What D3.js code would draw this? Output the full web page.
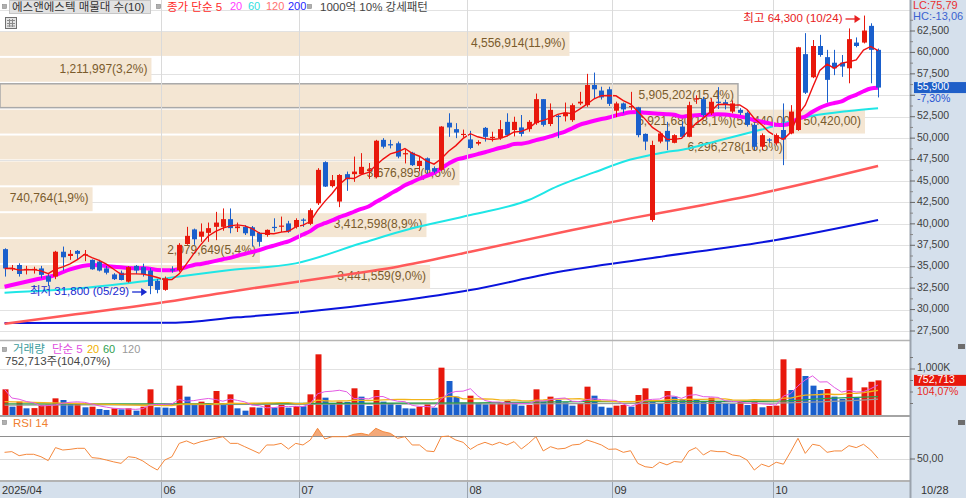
<!DOCTYPE html>
<html>
<head>
<meta charset="utf-8">
<script src="https://cdn.jsdelivr.net/npm/d3@7"></script>
<style>
body { margin: 0; background: #fff; }
svg { display: block; font-family: "Liberation Sans", "Noto Sans CJK KR", sans-serif; }
</style>
</head>
<body>
<svg id="chart" width="966" height="498"></svg>
<script>
// trading days shown, per month
var tradingDays = [
    ['2025/04', [28, 29, 30]],
    ['2025/05', [2, 7, 8, 9, 12, 13, 14, 15, 16, 19, 20, 21, 22, 23, 26, 27, 28, 29, 30]],
    ['2025/06', [2, 4, 5, 9, 10, 11, 12, 13, 16, 17, 18, 19, 20, 23, 24, 25, 26, 27, 30]],
    ['2025/07', [1, 2, 3, 4, 7, 8, 9, 10, 11, 14, 15, 16, 17, 18, 21, 22, 23, 24, 25, 28, 29, 30, 31]],
    ['2025/08', [1, 4, 5, 6, 7, 8, 11, 12, 13, 14, 18, 19, 20, 21, 22, 25, 26, 27, 28, 29]],
    ['2025/09', [1, 2, 3, 4, 5, 8, 9, 10, 11, 12, 15, 16, 17, 18, 19, 22, 23, 24, 25, 26, 29, 30]],
    ['2025/10', [1, 2, 10, 13, 14, 15, 16, 17, 20, 21, 22, 23, 24, 27, 28]]
];
// [label, month it marks]
var monthLabels = [['2025/04', '2025/04'], ['06', '2025/06'], ['07', '2025/07'], ['08', '2025/08'], ['09', '2025/09'], ['10', '2025/10']];

var opens = [
    37050, 34750, 35200, 34650, 34650, 34800, 33900, 33850, 36750, 36250,
    36850, 36350, 35800, 35600, 34800, 34100, 34300, 33250, 35100, 34950,
    34550, 33350, 32300, 34700, 34600, 37650, 39350, 38500, 38950, 39650,
    39650, 40550, 39500, 39650, 39600, 38950, 38700, 39650, 39700, 40050,
    39650, 40500, 40000, 42400, 47200, 44400, 42600, 45800, 45800, 45800,
    46150, 45450, 49800, 49300, 49400, 48150, 48300, 46750, 47650, 46500,
    46300, 51800, 51050, 50400, 49850, 49350, 51200, 50050, 50000, 51900,
    50950, 51250, 51050, 51750, 54550, 51650, 52600, 52550, 52100, 54050,
    53850, 56200, 55550, 55700, 53200, 54050, 53650, 53600, 50500, 40450,
    49600, 50850, 49450, 51350, 50150, 54500, 54550, 52900, 54250, 54200,
    53100, 53300, 52950, 51550, 49000, 49850, 49400, 50950, 50550, 50950,
    59800, 57100, 60750, 59450, 58800, 58800, 58150, 61150, 61150, 63100,
    60300];
var highs = [
    37150, 35200, 35400, 35100, 35000, 35100, 34250, 36850, 37350, 36950,
    36950, 36950, 35850, 35800, 35100, 34250, 34550, 35050, 35200, 35350,
    34850, 33550, 33850, 35050, 37750, 39650, 39450, 40050, 40150, 41400,
    41800, 41800, 40150, 39850, 39750, 39050, 39350, 40650, 40850, 40350,
    40650, 40650, 41800, 46500, 47300, 45700, 45800, 46100, 47850, 48250,
    47100, 49800, 50000, 49800, 49600, 48700, 48400, 47850, 47750, 46700,
    51400, 52900, 51750, 51000, 50850, 49750, 51300, 50750, 52100, 52900,
    52500, 52700, 52100, 55200, 54550, 54050, 52700, 54150, 54050, 55400,
    57500, 57650, 56000, 56000, 54250, 54150, 55400, 53650, 50550, 49700,
    50750, 51900, 50450, 51950, 54250, 55000, 54800, 54650, 55950, 54500,
    54400, 53500, 53100, 51750, 50550, 50000, 50550, 54050, 53850, 60650,
    62250, 61450, 62050, 60300, 60300, 59700, 62800, 61750, 64300, 63400,
    60450];
var lows = [
    33850, 34500, 33850, 34100, 34200, 33650, 32750, 33550, 34550, 35800,
    35800, 35650, 34650, 34450, 34100, 33450, 33400, 33150, 34150, 33850,
    31800, 31900, 32200, 34300, 34400, 37550, 37550, 37900, 37900, 38100,
    39200, 38900, 39050, 38700, 37350, 37350, 38500, 39100, 39050, 38950,
    39450, 39650, 39850, 42200, 44300, 44250, 41950, 43850, 44900, 45700,
    45250, 45300, 48800, 48800, 47650, 47050, 46750, 46100, 45900, 45900,
    46200, 50150, 50000, 50050, 48700, 49150, 49600, 49600, 49800, 50200,
    50200, 50200, 50750, 51550, 51350, 51400, 50000, 51950, 51900, 53850,
    53650, 54650, 54500, 53750, 52450, 52900, 53300, 50100, 48600, 40250,
    49400, 48600, 49400, 50000, 50100, 54000, 52500, 52700, 53400, 53350,
    52900, 52700, 51350, 48600, 48600, 49450, 49200, 46850, 50450, 50850,
    55150, 57000, 59500, 54150, 57350, 57150, 56400, 60600, 61050, 56400,
    54750];
var closes = [
    34800, 34850, 34150, 34750, 34750, 34050, 33250, 36750, 36100, 36500,
    36500, 36450, 34700, 34550, 34300, 33550, 33450, 34950, 34550, 34150,
    32750, 32300, 33650, 34600, 37550, 38600, 38200, 39100, 39500, 40150,
    40550, 39500, 39700, 38900, 38600, 37900, 39300, 39550, 39800, 39100,
    40450, 40400, 41600, 46300, 44350, 45100, 45700, 45200, 46100, 46650,
    46350, 49700, 49000, 49150, 47850, 48250, 46850, 47350, 46300, 46100,
    51350, 51250, 50650, 50500, 48850, 49550, 50150, 50150, 51050, 50350,
    51900, 50500, 51900, 54550, 51550, 53300, 52550, 52950, 53850, 54250,
    56200, 55700, 54750, 54000, 54050, 53350, 53750, 50350, 49600, 49200,
    50550, 49600, 50350, 50150, 53850, 54650, 52700, 54250, 54200, 53950,
    54050, 52950, 51550, 49000, 50350, 49750, 50350, 49850, 53100, 60600,
    55300, 60750, 59700, 56800, 58150, 58350, 61550, 60750, 62550, 60300,
    55900];

// volume, thousands of shares
var volumes = [
    558, 181, 290, 145, 150, 217, 225, 362, 326, 254,
    265, 167, 181, 130, 109, 145, 123, 145, 94, 181,
    558, 167, 160, 150, 638, 399, 217, 290, 254, 522,
    217, 449, 145, 94, 167, 160, 217, 159, 217, 159,
    196, 190, 449, 1319, 377, 254, 290, 285, 580, 399,
    196, 543, 290, 254, 217, 145, 140, 181, 232, 159,
    1029, 739, 399, 268, 420, 254, 232, 240, 254, 304,
    254, 203, 217, 558, 290, 399, 326, 275, 203, 254,
    616, 420, 181, 159, 203, 217, 181, 435, 580, 290,
    254, 522, 399, 348, 616, 326, 304, 377, 290, 254,
    239, 290, 217, 290, 167, 196, 203, 1210, 543, 1015,
    848, 638, 543, 565, 399, 348, 812, 377, 601, 723.27,
    752.713];

var rsi14 = [
    55.8, 56.4, 52.9, 54.1, 54.1, 52.0, 48.6, 59.9, 57.8, 58.4,
    59.3, 59.3, 51.2, 50.6, 49.1, 47.5, 46.2, 52.0, 51.2, 48.3,
    43.9, 40.4, 49.1, 52.0, 63.6, 65.7, 63.0, 65.1, 66.5, 68.0,
    69.4, 63.6, 63.6, 60.7, 57.8, 54.9, 62.2, 62.2, 63.6, 58.7,
    63.6, 62.2, 66.5, 76.7, 67.4, 69.4, 69.4, 69.4, 71.5, 72.3,
    70.9, 76.7, 73.8, 72.3, 68.0, 69.4, 62.2, 62.2, 57.0, 56.4,
    69.4, 70.0, 66.5, 64.5, 58.4, 62.2, 64.5, 62.2, 64.5, 62.2,
    65.1, 58.7, 63.6, 69.4, 57.0, 60.7, 58.7, 59.3, 62.2, 62.8,
    66.5, 64.5, 62.2, 58.4, 58.7, 55.8, 57.2, 46.2, 43.3, 42.5,
    47.2, 44.9, 47.8, 47.2, 57.0, 59.9, 53.5, 57.2, 56.4, 56.4,
    53.5, 52.6, 49.1, 40.4, 45.5, 43.3, 47.2, 45.5, 56.4, 68.0,
    54.9, 62.8, 61.6, 55.8, 57.0, 57.0, 61.6, 59.9, 62.8, 57.8,
    50.6];

// moving averages read off the chart where the window reaches back before the first candle
// [candle index, value]
var ma20Lead = [[0, 32670], [4, 33450], [7, 34030], [9, 34690], [12, 35200], [15, 35000], [18, 34810]];
var ma60 = [[0, 31970], [10, 32450], [20, 33400], [31, 34620], [40, 35390], [49, 37730], [56, 39480],
    [64, 41030], [72, 42780], [76, 44400], [81, 46000], [86, 47500], [90, 48250], [94, 48800],
    [98, 49700], [104, 51000], [111, 52600], [116, 53170], [120, 53500]];
var ma120 = [[0, 28350], [9, 29370], [21, 30730], [31, 32090], [45, 33840], [54, 35000], [64, 36750],
    [78, 39280], [86, 40640], [96, 42200], [100, 42860], [111, 44920], [120, 46750]];
var ma200 = [[0, 28430], [23, 28450], [32, 29090], [41, 29720], [54, 31000], [64, 32280], [76, 34380],
    [89, 36020], [106, 38120], [120, 40450]];
var volMa20Lead = [[0, 290], [8, 260], [18, 215]];
var volMa60 = [[0, 240], [40, 250], [65, 265], [80, 290], [106, 300], [113, 360], [120, 400]];
var volMa120 = [[0, 215], [60, 240], [106, 260], [120, 345]];

// price-volume bands (매물대), top to bottom
var bandEdges = [62500, 59480, 56460, 53440, 50420, 47400, 44380, 41360, 38340, 35320, 32300];
var bandVolumes = [4556914, 1211997, 5905202, 6921680, 6296278, 3676895, 740764, 3412598, 2079649, 3441559];

var priceTicks = [27500, 30000, 32500, 35000, 37500, 40000, 42500, 45000, 47500, 50000, 52500, 55000, 57500, 60000, 62500];

var RED = '#e8180c', BLUE = '#1a5fcc', PLOT_R = 910;

var svg = d3.select('#chart');
var fmt = d3.format(',');
var dec = function (v, n) { return v.toFixed(n).replace('.', ','); };

var dates = [], monthStart = {};
tradingDays.forEach(function (m) {
    monthStart[m[0]] = dates.length;
    m[1].forEach(function (d) { dates.push(m[0] + '/' + (d < 10 ? '0' + d : d)); });
});

var x = d3.scaleBand().domain(dates).range([0.9, 881.7]).paddingInner(0.25).paddingOuter(0.125),
    xc = function (i) { return x(dates[i]) + x.bandwidth() / 2; },
    yP = d3.scaleLinear().domain([27500, 62500]).range([331, 31]),
    yV = d3.scaleLinear().domain([0, 1000]).range([415, 369]),
    yR = d3.scaleLinear().domain([50, 70]).range([459, 436]);

var movingAvg = function (arr, n, i) {
    return d3.mean(arr.slice(Math.max(0, i - n + 1), i + 1));
};

// backgrounds
svg.append('rect').attr('width', 966).attr('height', 498).attr('fill', '#fff');
svg.append('rect').attr('x', PLOT_R).attr('y', 0).attr('width', 966 - PLOT_R).attr('height', 498).attr('fill', '#d5e0ec');
svg.append('rect').attr('x', 0).attr('y', 482).attr('width', 966).attr('height', 16).attr('fill', '#d5e0ec');

var defs = svg.append('defs');
defs.append('clipPath').attr('id', 'clipMain').append('rect').attr('x', 0).attr('y', 0).attr('width', PLOT_R).attr('height', 340);
defs.append('clipPath').attr('id', 'clipRsi').append('rect').attr('x', 0).attr('y', 416).attr('width', PLOT_R).attr('height', yR(70) - 416);

// horizontal grid in main panel
var main = svg.append('g').attr('clip-path', 'url(#clipMain)');
main.selectAll('.hgrid')
    .data(priceTicks.concat([65000]))
    .enter().append('line')
    .attr('x1', 0).attr('x2', PLOT_R)
    .attr('y1', function (d) { return Math.round(yP(d)) + 0.5; })
    .attr('y2', function (d) { return Math.round(yP(d)) + 0.5; })
    .attr('stroke', '#e2e2e2');

// month grid lines (first label sits at the left edge)
var monthX = monthLabels.map(function (m, k) {
    return k === 0 ? 0 : Math.round(xc(monthStart[m[1]]) - x.step() / 2) + 0.5;
});
svg.selectAll('.vgrid')
    .data(monthX.slice(1))
    .enter().append('line')
    .attr('x1', function (d) { return d; }).attr('x2', function (d) { return d; })
    .attr('y1', 0).attr('y2', 481)
    .attr('stroke', '#dadada');

// price-volume bands
var total = d3.sum(bandVolumes),
    maxBand = d3.max(bandVolumes),
    bw = d3.scaleLinear().domain([0, maxBand]).range([0, 865]),
    lastClose = closes[closes.length - 1];

var bands = main.selectAll('.band')
    .data(bandVolumes)
    .enter().append('g')
    .attr('class', 'band');

bands.append('rect')
    .attr('x', 0)
    .attr('y', function (d, i) { return yP(bandEdges[i]) + 1; })
    .attr('width', function (d) { return bw(d); })
    .attr('height', function (d, i) { return yP(bandEdges[i + 1]) - yP(bandEdges[i]) - 2; })
    .attr('fill', '#f4e6d3')
    .attr('stroke', function (d, i) {
        return (lastClose <= bandEdges[i] && lastClose > bandEdges[i + 1]) ? '#a9a9a9' : 'none';
    })
    .attr('stroke-width', 1.5);

bands.append('text')
    .attr('x', function (d) { return bw(d) - 4; })
    .attr('y', function (d, i) { return (yP(bandEdges[i]) + yP(bandEdges[i + 1])) / 2; })
    .attr('dominant-baseline', 'middle')
    .attr('text-anchor', 'end')
    .attr('font-size', 12)
    .attr('fill', '#7a5b2c')
    .text(function (d, i) {
        var s = fmt(d) + '(' + dec(d / total * 100, 1) + '%)';
        if (d === maxBand)
            s += '(' + fmt(bandEdges[i]) + ',00 ~ ' + fmt(bandEdges[i + 1]) + ',00)';
        return s;
    });

// moving averages
var sparseLine = function (scale) {
    return d3.line()
        .x(function (d) { return xc(d[0]); })
        .y(function (d) { return scale(d[1]); })
        .curve(d3.curveMonotoneX);
};

var ma20 = ma20Lead.concat(d3.range(19, closes.length).map(function (i) { return [i, movingAvg(closes, 20, i)]; }));
var ma5 = d3.range(closes.length).map(function (i) { return [i, movingAvg(closes, 5, i)]; });

[[ma200, '#0a14dc', 2], [ma120, '#ff5a5a', 2.5], [ma60, '#1fe6e6', 2], [ma20, '#ff00ff', 4]].forEach(function (m) {
    main.append('path')
        .attr('d', sparseLine(yP)(m[0]))
        .attr('fill', 'none')
        .attr('stroke', m[1])
        .attr('stroke-width', m[2]);
});

// candles
var candle = main.selectAll('.candle')
    .data(dates)
    .enter().append('g')
    .attr('class', 'candle');

var cColor = function (d, i) { return closes[i] >= opens[i] ? RED : BLUE; };

candle.append('line')
    .attr('x1', function (d, i) { return Math.round(xc(i)) + 0.5; })
    .attr('x2', function (d, i) { return Math.round(xc(i)) + 0.5; })
    .attr('y1', function (d, i) { return yP(highs[i]); })
    .attr('y2', function (d, i) { return yP(lows[i]); })
    .attr('stroke', cColor);

candle.append('rect')
    .attr('x', function (d, i) { return Math.round(xc(i)) + 0.5 - 2.5; })
    .attr('y', function (d, i) { return yP(Math.max(opens[i], closes[i])); })
    .attr('width', 5)
    .attr('height', function (d, i) { return Math.max(1.2, Math.abs(yP(opens[i]) - yP(closes[i]))); })
    .attr('fill', cColor);

main.append('path')
    .attr('d', sparseLine(yP).curve(d3.curveLinear)(ma5))
    .attr('fill', 'none')
    .attr('stroke', '#f01010')
    .attr('stroke-width', 1.4);

// high / low notes
var hiIdx = d3.maxIndex(highs), loIdx = d3.minIndex(lows);
var note = function (txt, color, xEnd, y) {
    svg.append('text')
        .attr('x', xEnd - 18).attr('y', y)
        .attr('text-anchor', 'end')
        .attr('dominant-baseline', 'middle')
        .attr('font-size', 11.5)
        .attr('fill', color)
        .text(txt);
    svg.append('line')
        .attr('x1', xEnd - 15).attr('x2', xEnd - 2)
        .attr('y1', y).attr('y2', y)
        .attr('stroke', color).attr('stroke-width', 1.3);
    svg.append('path')
        .attr('d', 'M' + (xEnd - 6) + ',' + (y - 4) + 'L' + xEnd + ',' + y + 'L' + (xEnd - 6) + ',' + (y + 4) + 'Z')
        .attr('fill', color);
};
note('최고 ' + fmt(highs[hiIdx]) + ' (' + dates[hiIdx].slice(5) + ')', '#e82020', xc(hiIdx) - 3, 19);
note('최저 ' + fmt(lows[loIdx]) + ' (' + dates[loIdx].slice(5) + ')', '#1a2ad0', xc(loIdx) - 3, 292);

// volume panel
svg.append('line').attr('x1', 0).attr('x2', PLOT_R).attr('y1', yV(1000) + 0.5).attr('y2', yV(1000) + 0.5).attr('stroke', '#e2e2e2');

svg.selectAll('.vol')
    .data(volumes)
    .enter().append('rect')
    .attr('class', 'vol')
    .attr('x', function (d, i) { return Math.round(xc(i)) + 0.5 - 3; })
    .attr('y', function (d) { return yV(d); })
    .attr('width', 6)
    .attr('height', function (d) { return yV(0) - yV(d); })
    .attr('fill', function (d, i) { return (i === 0 || d >= volumes[i - 1]) ? RED : BLUE; });

var volMa5 = d3.range(volumes.length).map(function (i) { return [i, movingAvg(volumes, 5, i)]; });
var volMa20 = volMa20Lead.concat(d3.range(19, volumes.length).map(function (i) { return [i, movingAvg(volumes, 20, i)]; }));

[[volMa120, '#9a9a9a', 1.2, d3.curveMonotoneX], [volMa60, '#2fa04a', 1.3, d3.curveMonotoneX],
    [volMa20, '#f2b41a', 1.3, d3.curveLinear], [volMa5, '#e45ae4', 1, d3.curveLinear]].forEach(function (m) {
    svg.append('path')
        .attr('d', sparseLine(yV).curve(m[3])(m[0]))
        .attr('fill', 'none')
        .attr('stroke', m[1])
        .attr('stroke-width', m[2]);
});

// RSI panel
svg.append('line').attr('x1', 0).attr('x2', PLOT_R).attr('y1', yR(50) + 0.5).attr('y2', yR(50) + 0.5).attr('stroke', '#dcdcdc');
svg.append('line').attr('x1', 0).attr('x2', PLOT_R).attr('y1', yR(70) + 0.5).attr('y2', yR(70) + 0.5).attr('stroke', '#8e8e8e');

svg.append('path')
    .datum(rsi14)
    .attr('clip-path', 'url(#clipRsi)')
    .attr('d', d3.area()
        .x(function (d, i) { return xc(i); })
        .y0(yR(70))
        .y1(function (d) { return yR(d); }))
    .attr('fill', '#f3a878');

svg.append('path')
    .datum(rsi14)
    .attr('d', d3.line()
        .x(function (d, i) { return xc(i); })
        .y(function (d) { return yR(d); }))
    .attr('fill', 'none')
    .attr('stroke', '#f5883c')
    .attr('stroke-width', 1);

// panel separators
svg.append('line').attr('x1', 0).attr('x2', PLOT_R).attr('y1', 340.5).attr('y2', 340.5).attr('stroke', '#b4b4b4').attr('stroke-width', 1.5);
svg.append('line').attr('x1', 0).attr('x2', PLOT_R).attr('y1', 416).attr('y2', 416).attr('stroke', '#a4a4a4').attr('stroke-width', 2);
svg.append('line').attr('x1', 0).attr('x2', PLOT_R).attr('y1', 481).attr('y2', 481).attr('stroke', '#9a9a9a').attr('stroke-width', 1.5);
svg.append('line').attr('x1', PLOT_R + 0.5).attr('x2', PLOT_R + 0.5).attr('y1', 0).attr('y2', 498).attr('stroke', '#9ba3ad').attr('stroke-width', 2);

// date axis
svg.selectAll('.mtick')
    .data(monthX.slice(1))
    .enter().append('line')
    .attr('x1', function (d) { return d; }).attr('x2', function (d) { return d; })
    .attr('y1', 482).attr('y2', 498)
    .attr('stroke', '#9aa4b0');

svg.selectAll('.mlabel')
    .data(monthLabels)
    .enter().append('text')
    .attr('x', function (d, i) { return monthX[i] + 2; })
    .attr('y', 494)
    .attr('font-size', 11)
    .attr('fill', '#333')
    .text(function (d) { return d[0]; });

svg.append('text').attr('x', 921).attr('y', 494).attr('font-size', 11).attr('fill', '#333')
    .text(dates[dates.length - 1].slice(5));

// right axis
var axisText = function (txt, y, color, size) {
    return svg.append('text')
        .attr('x', 917).attr('y', y)
        .attr('dominant-baseline', 'middle')
        .attr('font-size', size || 10.5)
        .attr('fill', color || '#404040')
        .text(txt);
};

priceTicks.forEach(function (p) {
    svg.append('line').attr('x1', PLOT_R).attr('x2', 915).attr('y1', yP(p)).attr('y2', yP(p)).attr('stroke', '#666');
    svg.append('line').attr('x1', PLOT_R).attr('x2', 913).attr('y1', yP(p + 1250)).attr('y2', yP(p + 1250)).attr('stroke', '#888');
    if (Math.abs(yP(p) - yP(lastClose)) > 9) axisText(fmt(p), yP(p));
});

var hiRatio = (lastClose - highs[hiIdx]) / highs[hiIdx] * 100,
    loRatio = (lastClose - lows[loIdx]) / lows[loIdx] * 100,
    chg = (lastClose - closes[closes.length - 2]) / closes[closes.length - 2] * 100;

svg.append('text').attr('x', 913).attr('y', 6).attr('dominant-baseline', 'middle').attr('font-size', 11).attr('fill', '#e83030')
    .text('LC:' + dec(loRatio, 2));
svg.append('text').attr('x', 913).attr('y', 17).attr('dominant-baseline', 'middle').attr('font-size', 11).attr('fill', '#3a62d0')
    .text('HC:' + dec(hiRatio, 2));

svg.append('rect').attr('x', 914).attr('y', yP(lastClose) - 5.5).attr('width', 52).attr('height', 11).attr('fill', '#1f5fc8');
axisText(fmt(lastClose), yP(lastClose), '#fff', 10.5);
axisText(dec(chg, 2) + '%', yP(lastClose) + 11.5, '#2452d2', 10.5);

// volume axis
[250, 500, 750, 1000, 1250].forEach(function (v) {
    svg.append('line').attr('x1', PLOT_R).attr('x2', v === 1000 ? 915 : 913).attr('y1', yV(v)).attr('y2', yV(v)).attr('stroke', '#777');
});
axisText('1,000K', yV(1000) - 1);
var lastVol = volumes[volumes.length - 1],
    volChg = lastVol / volumes[volumes.length - 2] * 100;
svg.append('rect').attr('x', 914).attr('y', yV(lastVol) - 5.5).attr('width', 52).attr('height', 11).attr('fill', RED);
axisText(fmt(Math.round(lastVol * 1000)), yV(lastVol), '#fff', 10.5);
axisText(dec(volChg, 2) + '%', yV(lastVol) + 11.5, '#e8281c', 10.5);

// rsi axis
svg.append('line').attr('x1', PLOT_R).attr('x2', 915).attr('y1', yR(50)).attr('y2', yR(50)).attr('stroke', '#666');
axisText('50,00', yR(50));

// small panel icons on the right
[344, 420].forEach(function (y) {
    svg.append('rect').attr('x', 958).attr('y', y).attr('width', 7).attr('height', 5).attr('fill', '#6d6d6d');
});

// legends
var bullet = function (x, y) {
    svg.append('rect').attr('x', x + 0.5).attr('y', y - 2.5).attr('width', 4).attr('height', 4)
        .attr('fill', '#b0b0b0').attr('stroke', '#888').attr('stroke-width', 0.6);
};
var label = function (txt, x, y, color, size) {
    svg.append('text').attr('x', x).attr('y', y)
        .attr('dominant-baseline', 'middle')
        .attr('font-size', size || 11.5)
        .attr('fill', color)
        .text(txt);
};

bullet(2, 7);
svg.append('rect').attr('x', 9.5).attr('y', 0.5).attr('width', 141).attr('height', 13).attr('fill', '#e2e2e2').attr('stroke', '#c6c6c6');
label('에스앤에스텍 매물대 수(10)', 12, 7.5, '#333');
bullet(156, 7);
label('종가 단순 5', 167, 7.5, '#ff2a2a');
label('20', 230, 7.5, '#ff3cff', 11);
label('60', 248, 7.5, '#2fe0e0', 11);
label('120', 266, 7.5, '#ff7272', 11);
label('200', 288, 7.5, '#2626ff', 11);
bullet(307, 7);
label('1000억 10% 강세패턴', 320, 7.5, '#444');

// table icon
svg.append('rect').attr('x', 5.5).attr('y', 17.5).attr('width', 11).attr('height', 11).attr('fill', '#e4e4e4').attr('stroke', '#707070');
[20.5, 23.5, 26].forEach(function (y) {
    svg.append('line').attr('x1', 7).attr('x2', 15).attr('y1', y).attr('y2', y).attr('stroke', '#8a8a8a');
});
[9.5, 12.5].forEach(function (xx) {
    svg.append('line').attr('x1', xx).attr('x2', xx).attr('y1', 19).attr('y2', 27).attr('stroke', '#8a8a8a');
});

bullet(2, 350);
label('거래량', 13, 350, '#3c9c9c');
label('단순 5', 52, 350, '#e050e0');
label('20', 87, 350, '#f0b000', 11);
label('60', 103, 350, '#30a050', 11);
label('120', 122, 350, '#9a9a9a', 11);
label(fmt(Math.round(lastVol * 1000)) + '주(' + dec(volChg, 2) + '%)', 5, 362, '#444');

bullet(2, 423);
label('RSI 14', 13, 424, '#f08030');
</script>
</body>
</html>
